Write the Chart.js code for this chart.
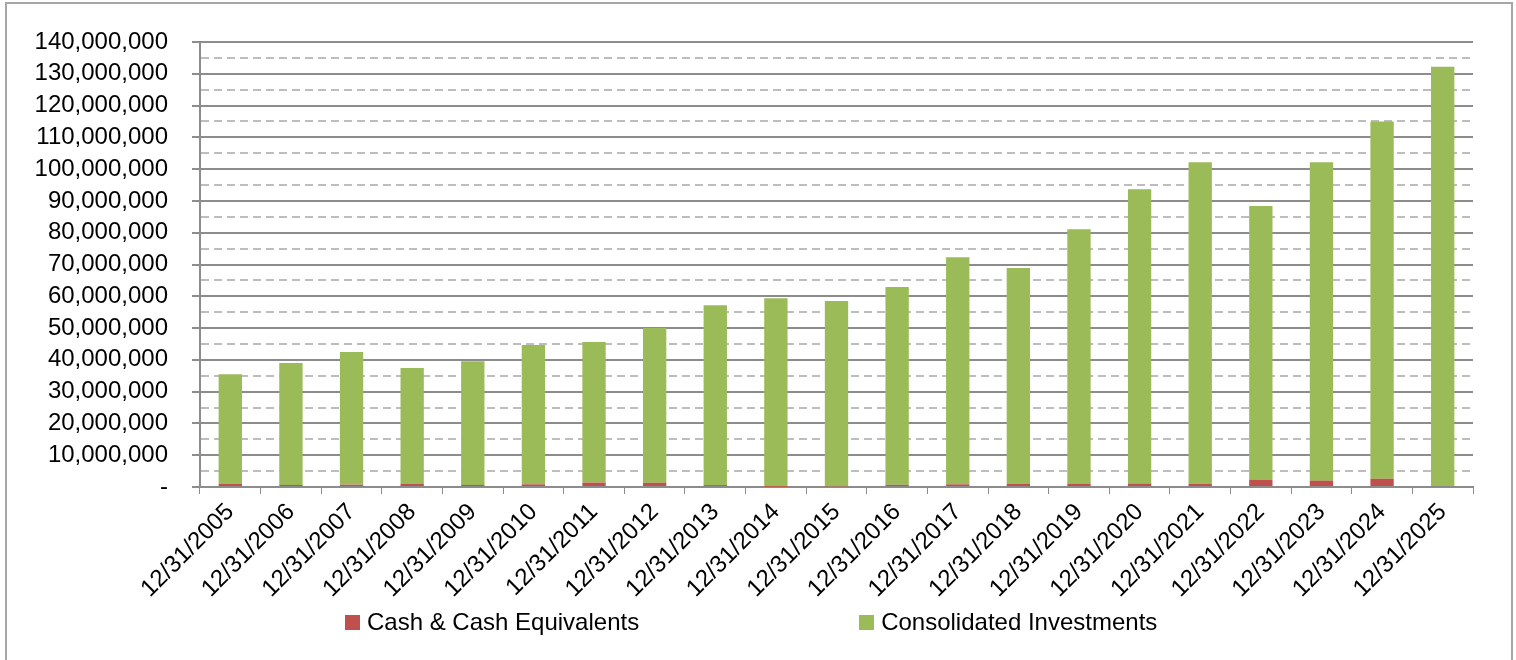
<!DOCTYPE html>
<html>
<head>
<meta charset="utf-8">
<script src="https://cdn.jsdelivr.net/npm/chart.js@4/dist/chart.umd.min.js"></script>
<style>
  html, body { margin: 0; padding: 0; background: #fff; overflow: hidden; }
  #wrap { position: relative; width: 1516px; height: 660px; }
  #frame { position: absolute; left: 5px; top: 2px; width: 1508px; height: 700px;
           box-sizing: border-box; border: 2px solid #a6a6a6; pointer-events: none; }
  #legend { position: absolute; left: 345px; top: 608px; display: flex;
            gap: 220px; font: 24px "Liberation Sans", Arial, sans-serif; color: #000; }
  .item { display: flex; align-items: center; }
  .box { width: 15px; height: 15px; margin-right: 7px; }
</style>
</head>
<body>
<div id="wrap">
  <canvas id="chart" width="1516" height="660"></canvas>
  <div id="frame"></div>
  <div id="legend"></div>
</div>
<script>
const dates = [
  '12/31/2005', '12/31/2006', '12/31/2007', '12/31/2008', '12/31/2009', '12/31/2010', '12/31/2011',
  '12/31/2012', '12/31/2013', '12/31/2014', '12/31/2015', '12/31/2016', '12/31/2017', '12/31/2018',
  '12/31/2019', '12/31/2020', '12/31/2021', '12/31/2022', '12/31/2023', '12/31/2024', '12/31/2025'
];

// cash sits at the bottom of each stack
const cash = [
  950000, 650000, 750000, 950000, 650000, 850000, 1400000,
  1350000, 600000, 50000, 200000, 700000, 850000, 950000,
  1050000, 1100000, 950000, 2300000, 2000000, 2600000, 300000
];

const investments = [
  34550000, 38350000, 41750000, 36450000, 38950000, 43850000, 44200000,
  48650000, 56600000, 59350000, 58300000, 62200000, 71450000, 67950000,
  80050000, 92600000, 101250000, 86100000, 100200000, 112400000, 131900000
];

const seriesNames = ['Cash & Cash Equivalents', 'Consolidated Investments'];
const seriesColors = ['#C0504D', '#9BBB59'];

const yMax = 140000000;
const yStep = 5000000;

const FONT = { family: '"Liberation Sans", Arial, sans-serif', size: 24 };

function isMajor(v) {
  return v % 10000000 === 0;
}

const chart = new Chart(document.getElementById('chart'), {
  type: 'bar',
  data: {
    labels: dates,
    datasets: [
      { label: seriesNames[0], data: cash, backgroundColor: seriesColors[0] },
      { label: seriesNames[1], data: investments, backgroundColor: seriesColors[1] }
    ]
  },
  options: {
    responsive: false,
    animation: false,
    layout: { padding: { top: 42, right: 43, left: 0, bottom: 0 } },
    datasets: { bar: { categoryPercentage: 1, barPercentage: 0.385 } },
    plugins: { legend: { display: false }, tooltip: { enabled: false } },
    scales: {
      x: {
        stacked: true,
        grid: { drawOnChartArea: false, tickLength: 7, tickColor: '#8c8c8c', offset: true },
        border: { color: '#8c8c8c', width: 2 },
        ticks: { color: '#000', font: FONT, minRotation: 45, maxRotation: 45, autoSkip: false, padding: 4 },
        afterFit: s => { s.height = 173; }
      },
      y: {
        stacked: true,
        min: 0,
        max: yMax,
        grid: {
          color: ctx => isMajor(ctx.tick.value) ? '#8c8c8c' : '#bdbdbd',
          lineWidth: 2,
          tickLength: 8,
          tickColor: ctx => isMajor(ctx.tick.value) ? '#8c8c8c' : 'rgba(0,0,0,0)'
        },
        border: {
          color: '#8c8c8c',
          width: 2,
          dash: ctx => (ctx.tick && !isMajor(ctx.tick.value)) ? [8, 5] : []
        },
        ticks: {
          stepSize: yStep,
          maxTicksLimit: 40,
          autoSkip: false,
          color: '#000',
          font: FONT,
          padding: 24,
          callback: v => !isMajor(v) ? '' : (v === 0 ? '-' : v.toLocaleString('en-US'))
        },
        afterFit: s => { s.width = 200; }
      }
    }
  }
});

// Excel-style legend, spread out underneath
const legend = document.getElementById('legend');
chart.data.datasets.forEach(ds => {
  const item = document.createElement('div');
  item.className = 'item';
  const box = document.createElement('span');
  box.className = 'box';
  box.style.background = ds.backgroundColor;
  const txt = document.createElement('span');
  txt.textContent = ds.label;
  item.appendChild(box);
  item.appendChild(txt);
  legend.appendChild(item);
});
</script>
</body>
</html>
